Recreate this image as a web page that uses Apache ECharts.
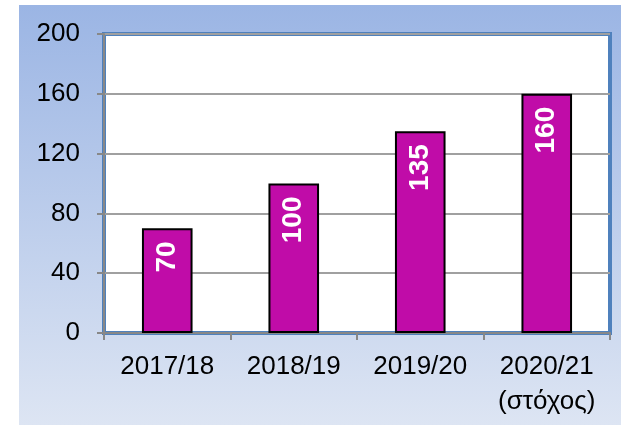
<!DOCTYPE html>
<html>
<head>
<meta charset="utf-8">
<script src="https://cdn.jsdelivr.net/npm/echarts@6/dist/echarts.min.js"></script>
<style>html,body{margin:0;padding:0;background:#fff;}#c{width:621px;height:425px;}</style>
</head>
<body>
<div id="c"></div>
<script>
var categories = ['2017/18', '2018/19', '2019/20', '2020/21\n(στόχος)'];
var values = [70, 100, 135, 160];
var yTicks = [0, 40, 80, 120, 160, 200];

var chart = echarts.init(document.getElementById('c'), null, {renderer: 'canvas'});
var font = '"Liberation Sans", Arial, sans-serif';
chart.setOption({
  animation: false,
  graphic: [{
    type: 'rect', z: -10, silent: true,
    shape: {x: 19, y: 5, width: 602, height: 420},
    style: {fill: new echarts.graphic.LinearGradient(0, 0, 0, 1, [
      {offset: 0, color: '#9bb5e4'}, {offset: 1, color: '#dde5f3'}
    ])}
  }],
  grid: {
    left: 104, top: 34, right: 11, bottom: 92,
    show: true, backgroundColor: '#ffffff',
    borderColor: '#4f81bd', borderWidth: 4
  },
  xAxis: {
    type: 'category', data: categories,
    axisLine: {show: true, lineStyle: {color: '#888888', width: 2}},
    axisTick: {show: true, length: 7, lineStyle: {color: '#888888', width: 2}},
    axisLabel: {interval: 0, hideOverlap: false, color: '#000', fontSize: 26, fontFamily: font, margin: 16, lineHeight: 35}
  },
  yAxis: {
    type: 'value', min: 0, max: 200, interval: 40,
    axisLine: {show: true, lineStyle: {color: '#888888', width: 2}},
    axisTick: {show: true, length: 7, lineStyle: {color: '#888888', width: 2}},
    splitLine: {lineStyle: {color: '#a0a0a0', width: 2}},
    axisLabel: {color: '#000', fontSize: 26, fontFamily: font, margin: 24,
      formatter: function (v) { return yTicks.indexOf(v) >= 0 ? String(v) : ''; }}
  },
  series: [{
    type: 'bar', data: values, barWidth: '40%',
    itemStyle: {color: '#c00ca8', borderColor: '#000', borderWidth: 2},
    label: {
      show: true, position: 'insideTop', rotate: 90, align: 'right', verticalAlign: 'middle',
      distance: 13, color: '#fff', fontWeight: 'bold', fontSize: 28, fontFamily: font
    }
  }]
});
</script>
</body>
</html>
